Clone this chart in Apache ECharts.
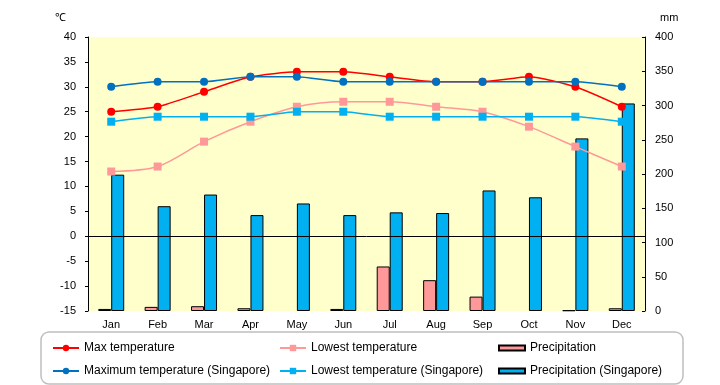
<!DOCTYPE html>
<html>
<head>
<meta charset="utf-8">
<script src="https://cdn.jsdelivr.net/npm/echarts@6/dist/echarts.min.js"></script>
<style>html,body{margin:0;padding:0;background:#fff;}#c{width:720px;height:385px;}</style>
</head>
<body>
<div id="c"></div>
<script>
var months = ['Jan','Feb','Mar','Apr','May','Jun','Jul','Aug','Sep','Oct','Nov','Dec'];
var maxTemp = [25,26,29,32,33,33,32,31,31,32,30,26];
var lowTemp = [13,14,19,23,26,27,27,26,25,22,18,14];
var precip = [3,6,7,4,0,3,65,45,21,0,1,4];
var maxTempSG = [30,31,31,32,32,31,31,31,31,31,31,30];
var lowTempSG = [23,24,24,24,25,25,24,24,24,24,24,23];
var precipSG = [199,153,170,140,157,140,144,143,176,166,252,303];
var tempTicks = {min:-15, max:40, interval:5};
var rainTicks = {min:0, max:400, interval:50};

function barData(arr){
  return arr.map(function(v){ return v === 0 ? {value:v, itemStyle:{borderWidth:0}} : v; });
}

var FONT = 'Liberation Sans';
var chart = echarts.init(document.getElementById('c'));
var legendBase = {
  orient:'vertical', top:341, height:60, padding:0, itemWidth:26, itemHeight:8, itemGap:9,
  textStyle:{fontFamily:FONT, fontSize:12, color:'#000', lineHeight:14},
  selectedMode:false
};
chart.setOption({
  animation:false,
  textStyle:{fontFamily:FONT},
  grid:{left:88, right:75, top:37, bottom:74, show:true, backgroundColor:'#FFFFCC', borderWidth:0},
  graphic:[
    {type:'rect', shape:{x:41, y:332, width:642, height:52, r:8}, style:{fill:'#fff', stroke:'#BFBFBF', lineWidth:1.5}, z:-1},
    {type:'text', left:55, top:12, style:{text:'℃', font:'11px '+FONT, fill:'#000'}},
    {type:'text', left:660, top:12, style:{text:'mm', font:'11px '+FONT, fill:'#000'}}
  ],
  legend:[
    Object.assign({}, legendBase, {left:52, data:['Max temperature','Maximum temperature (Singapore)']}),
    Object.assign({}, legendBase, {left:279, data:['Lowest temperature','Lowest temperature (Singapore)']}),
    Object.assign({}, legendBase, {left:498, itemHeight:5, icon:'rect', data:['Precipitation','Precipitation (Singapore)']})
  ],
  xAxis:{type:'category', data:months, axisLine:{show:false}, axisTick:{show:false},
    axisLabel:{color:'#000', fontSize:11, margin:8}},
  yAxis:[
    {type:'value', min:tempTicks.min, max:tempTicks.max, interval:tempTicks.interval,
     axisLine:{show:true, lineStyle:{color:'#000'}}, axisTick:{show:true, length:3, lineStyle:{color:'#000'}},
     splitLine:{show:false}, axisLabel:{color:'#000', fontSize:11, margin:12}},
    {type:'value', min:rainTicks.min, max:rainTicks.max, interval:rainTicks.interval, position:'right',
     axisLine:{show:true, lineStyle:{color:'#000'}}, axisTick:{show:true, inside:true, length:3, lineStyle:{color:'#000'}},
     splitLine:{show:false}, axisLabel:{color:'#000', fontSize:11, margin:10}}
  ],
  series:[
    {name:'Precipitation', type:'bar', yAxisIndex:1, data:barData(precip), barWidth:13, barGap:'0%',
     itemStyle:{color:'#FF9999', borderColor:'#000', borderWidth:1}},
    {name:'Precipitation (Singapore)', type:'bar', yAxisIndex:1, data:barData(precipSG), barWidth:13, barGap:'0%',
     itemStyle:{color:'#00B0F0', borderColor:'#000', borderWidth:1}},
    {name:'Max temperature', type:'line', data:maxTemp, smooth:0.2, symbol:'circle', symbolSize:8,
     itemStyle:{color:'#FF0000'}, lineStyle:{color:'#FF0000', width:1.5},
     markLine:{silent:true, symbol:['none','none'], label:{show:false}, lineStyle:{color:'#000', width:1, type:'solid'}, data:[{yAxis:0}]}},
    {name:'Lowest temperature', type:'line', data:lowTemp, smooth:0.3, symbol:'rect', symbolSize:8,
     itemStyle:{color:'#FF9999'}, lineStyle:{color:'#FF9999', width:1.5}},
    {name:'Maximum temperature (Singapore)', type:'line', data:maxTempSG, smooth:0.2, symbol:'circle', symbolSize:8,
     itemStyle:{color:'#0070C0'}, lineStyle:{color:'#0070C0', width:1.5}},
    {name:'Lowest temperature (Singapore)', type:'line', data:lowTempSG, smooth:0.2, symbol:'rect', symbolSize:8,
     itemStyle:{color:'#00B0F0'}, lineStyle:{color:'#00B0F0', width:1.5}}
  ]
});
</script>
</body>
</html>
